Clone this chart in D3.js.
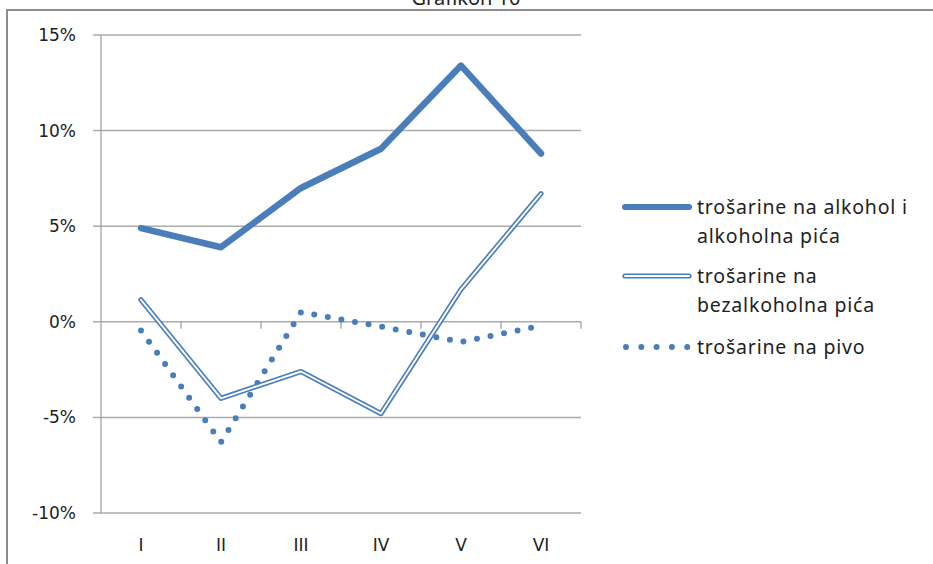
<!DOCTYPE html>
<html>
<head>
<meta charset="utf-8">
<script src="https://cdn.jsdelivr.net/npm/d3@7"></script>
<style>
  body { margin: 0; background: #fff; }
</style>
</head>
<body>
<div id="chart"></div>
<script>
// data
var months = ["I", "II", "III", "IV", "V", "VI"];
var alkohol = [4.9, 3.9, 7.0, 9.05, 13.4, 8.8];
var bezalkoholna = [1.15, -4.0, -2.6, -4.8, 1.7, 6.7];
var pivo = [-0.45, -6.3, 0.5, -0.25, -1.05, -0.2];
var yTicks = [-10, -5, 0, 5, 10, 15];

var legendNames = ["trošarine na alkohol i|alkoholna pića", "trošarine na|bezalkoholna pića", "trošarine na pivo"];

var blue = "#4a7ebb";
var W = 933, H = 564;

var svg = d3.select("#chart").append("svg")
    .attr("width", W)
    .attr("height", H);

// title, cut at the top like in the source
svg.append("text")
    .attr("x", 466)
    .attr("y", 5)
    .attr("text-anchor", "middle")
    .attr("font-family", "'Noto Sans', sans-serif")
    .attr("font-size", 20)
    .attr("fill", "#222")
    .text("Grafikon 10");

// frame (left + top only visible)
svg.append("path")
    .attr("d", "M7,564 V10 H933")
    .attr("fill", "none")
    .attr("stroke", "#8c8c8c")
    .attr("stroke-width", 2);

var plot = {left: 101, right: 581, top: 35, bottom: 513};

var x = d3.scaleBand()
    .domain(months)
    .range([plot.left, plot.right]);

var y = d3.scaleLinear()
    .domain([-10, 15])
    .range([plot.bottom, plot.top]);

// gridlines
svg.append("g")
    .selectAll("line")
    .data(yTicks)
    .join("line")
    .attr("x1", plot.left - 8)
    .attr("x2", plot.right)
    .attr("y1", d => y(d))
    .attr("y2", d => y(d))
    .attr("stroke", "#ababab")
    .attr("stroke-width", 1.5);

// y axis line
svg.append("line")
    .attr("x1", plot.left).attr("x2", plot.left)
    .attr("y1", y(15)).attr("y2", y(-10))
    .attr("stroke", "#9a9a9a")
    .attr("stroke-width", 1.2);

// x-axis tick marks on the 0% line, at category boundaries
svg.append("g")
    .selectAll("line")
    .data(months.slice(1))
    .join("line")
    .attr("x1", d => x(d))
    .attr("x2", d => x(d))
    .attr("y1", y(0))
    .attr("y2", y(0) + 7)
    .attr("stroke", "#9a9a9a")
    .attr("stroke-width", 1.2);
svg.append("line")
    .attr("x1", plot.right).attr("x2", plot.right)
    .attr("y1", y(0)).attr("y2", y(0) + 7)
    .attr("stroke", "#9a9a9a")
    .attr("stroke-width", 1.2);

// y labels
svg.append("g")
    .selectAll("text")
    .data(yTicks)
    .join("text")
    .attr("x", 76)
    .attr("y", d => y(d))
    .attr("dy", "0.35em")
    .attr("text-anchor", "end")
    .attr("font-family", "'DejaVu Sans', sans-serif")
    .attr("font-size", 17)
    .attr("fill", "#222")
    .text(d => d + "%");

// x labels
svg.append("g")
    .selectAll("text")
    .data(months)
    .join("text")
    .attr("x", d => x(d) + x.bandwidth() / 2)
    .attr("y", 551)
    .attr("text-anchor", "middle")
    .attr("font-family", "'DejaVu Sans', sans-serif")
    .attr("font-size", 17)
    .attr("fill", "#222")
    .text(d => d);

function lineOf(values) {
    return d3.line()
        .x((d, i) => x(months[i]) + x.bandwidth() / 2)
        .y(d => y(d))(values);
}

// beer: round dots
svg.append("path")
    .attr("d", lineOf(pivo))
    .attr("fill", "none")
    .attr("stroke", blue)
    .attr("stroke-width", 6)
    .attr("stroke-linecap", "round")
    .attr("stroke-dasharray", "0 13.8");

// non-alcoholic: double line
svg.append("path")
    .attr("d", lineOf(bezalkoholna))
    .attr("fill", "none")
    .attr("stroke", blue)
    .attr("stroke-width", 5.2)
    .attr("stroke-linecap", "round")
    .attr("stroke-linejoin", "round");
svg.append("path")
    .attr("d", lineOf(bezalkoholna))
    .attr("fill", "none")
    .attr("stroke", "#fff")
    .attr("stroke-width", 1.9)
    .attr("stroke-linecap", "round")
    .attr("stroke-linejoin", "round");

// alcohol: thick
svg.append("path")
    .attr("d", lineOf(alkohol))
    .attr("fill", "none")
    .attr("stroke", blue)
    .attr("stroke-width", 6.5)
    .attr("stroke-linecap", "round")
    .attr("stroke-linejoin", "round");

// legend
var legY = [207, 276, 347];
var leg = svg.append("g")
    .attr("font-family", "'Noto Sans', sans-serif")
    .attr("font-size", 19.5)
    .attr("letter-spacing", 0.8)
    .attr("fill", "#222");

legendNames.forEach(function (name, i) {
    var ly = legY[i];
    if (i === 0) {
        leg.append("line")
            .attr("x1", 625).attr("x2", 689).attr("y1", ly).attr("y2", ly)
            .attr("stroke", blue).attr("stroke-width", 6).attr("stroke-linecap", "round");
    } else if (i === 1) {
        leg.append("line")
            .attr("x1", 625).attr("x2", 689).attr("y1", ly).attr("y2", ly)
            .attr("stroke", blue).attr("stroke-width", 5.2).attr("stroke-linecap", "round");
        leg.append("line")
            .attr("x1", 625).attr("x2", 689).attr("y1", ly).attr("y2", ly)
            .attr("stroke", "#fff").attr("stroke-width", 1.9).attr("stroke-linecap", "round");
    } else {
        leg.append("line")
            .attr("x1", 626).attr("x2", 689).attr("y1", ly).attr("y2", ly)
            .attr("stroke", blue).attr("stroke-width", 6).attr("stroke-linecap", "round")
            .attr("stroke-dasharray", "0 15.3");
    }
    var t = leg.append("text")
        .attr("x", 697)
        .attr("y", ly);
    name.split("|").forEach(function (part, j) {
        t.append("tspan")
            .attr("x", 697)
            .attr("dy", j === 0 ? "0.35em" : 29)
            .text(part);
    });
});
</script>
</body>
</html>
